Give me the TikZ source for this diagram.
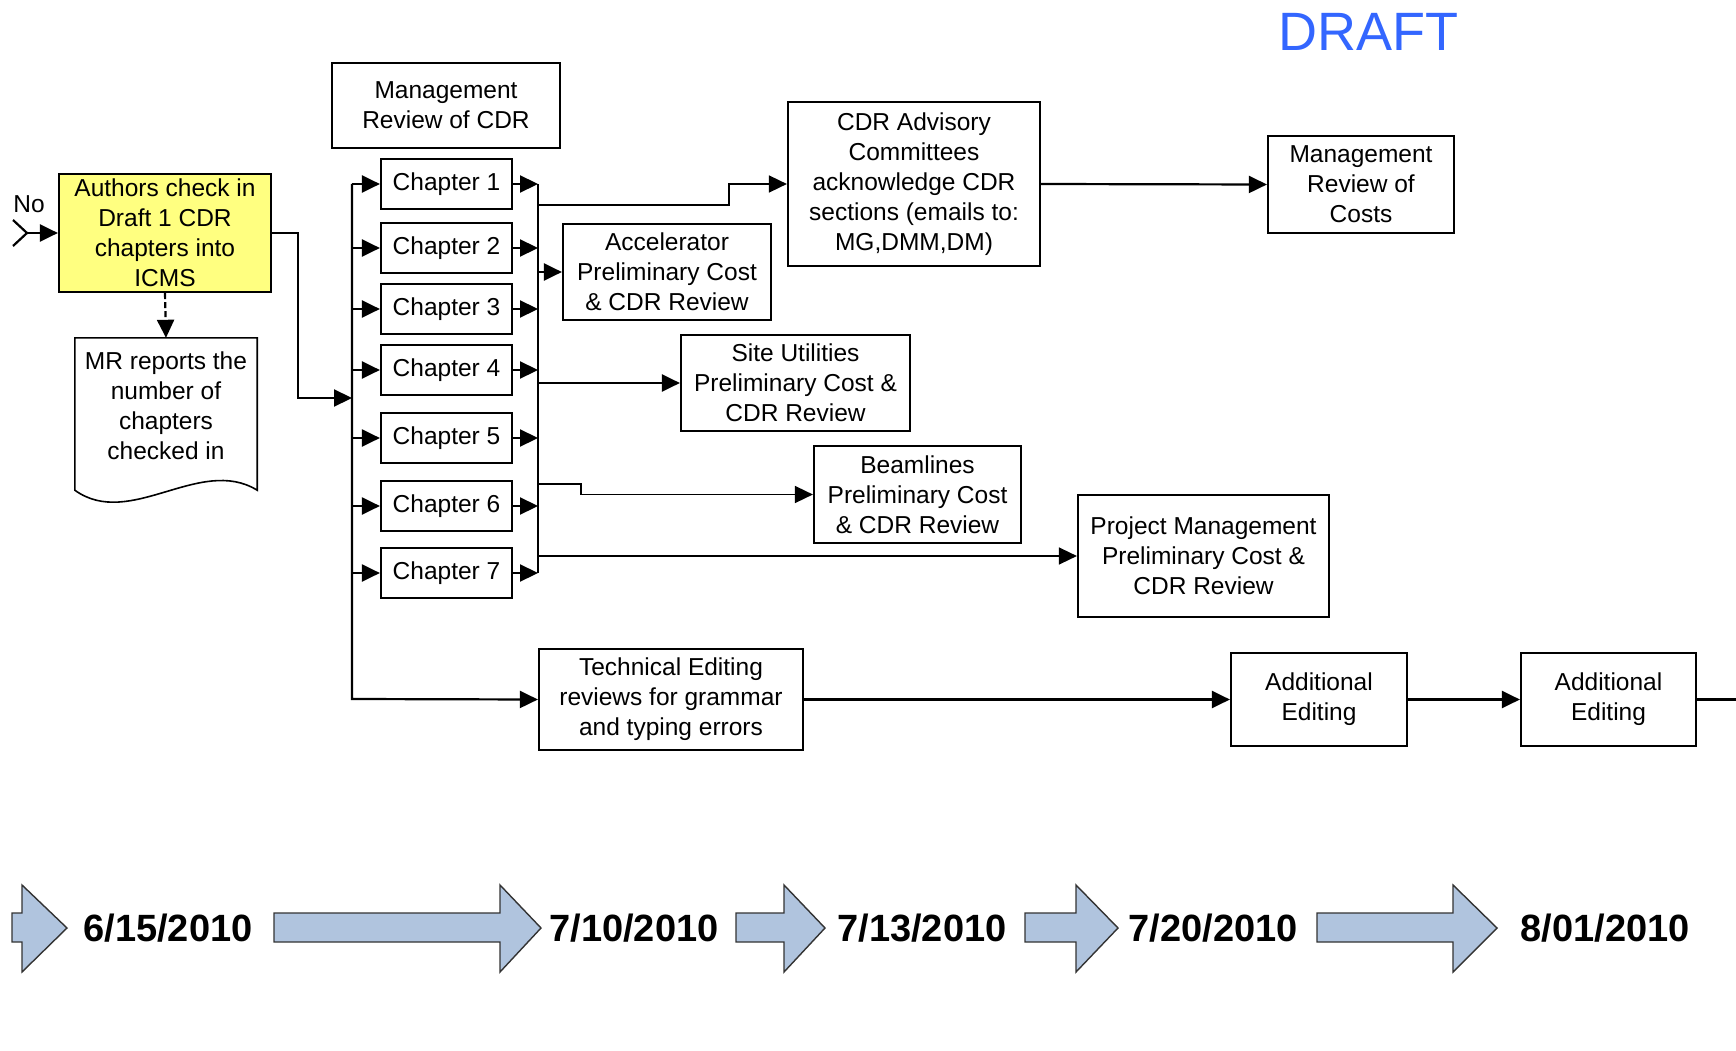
\documentclass[tikz,border=0pt]{standalone}
\usepackage{fontspec}
\setmainfont{Liberation Sans}
\usetikzlibrary{arrows.meta}
\definecolor{draftblue}{RGB}{51,102,255}
\definecolor{boxyellow}{RGB}{255,255,128}
\definecolor{tlblue}{RGB}{176,196,222}
\begin{document}
\begin{tikzpicture}[x=1pt,y=-1pt,
  every node/.style={font=\fontsize{24.5}{30}\selectfont},
  box/.style={draw, line width=2.2pt, align=center, inner sep=0pt},
  chap/.style={box, minimum width=131pt, minimum height=50pt},
  conn/.style={line width=2.2pt},
  arr/.style={conn, -{Triangle[length=18pt,width=17pt]}},
  darr/.style={arr, dash pattern=on 6pt off 3pt},
  tl/.style={fill=tlblue, draw=black!80, line width=1.4pt, line join=miter},
  datefont/.style={font=\fontsize{38}{40}\selectfont\bfseries}
]
\path[use as bounding box] (0,0) rectangle (1736,1051);

% DRAFT
\node[text=draftblue, font=\fontsize{54}{60}\selectfont] (draft) at (1368,32) {DRAFT};

% start
\node[box, fill=boxyellow, minimum width=212pt, minimum height=118pt] (authors) at (165,233)
  {Authors check in\\Draft 1 CDR\\chapters into\\ICMS};
\node (no) at (29,204) {No};
\coordinate (noin) at (27,233);
\draw[conn] (13,220) -- (noin) -- (13,246);
\draw[arr] (noin) -- (authors.west);

% MR document
\node[minimum width=182pt, minimum height=152pt, inner sep=0pt] (mr) at (166,414) {};
\draw[line width=1.6pt] (mr.south east) -- (mr.north east) -- (mr.north west) -- (mr.south west)
  .. controls (130,530) and (200,455) .. (mr.south east) -- cycle;
\node[align=center] (mrtext) at (166,406) {MR reports the\\number of\\chapters\\checked in};
\draw[darr] (authors.south) -- (mr.north);

% management review of CDR
\node[box, minimum width=228pt, minimum height=85pt] (mgmtcdr) at (446,105.5) {Management\\Review of CDR};

% buses
\coordinate (lbin) at (352,398);
\coordinate (lbtop) at (352,184);
\coordinate (lbbot) at (352,699);
\coordinate (rbtop) at (538,184);
\coordinate (rbbot) at (538,573);
\draw[arr] (authors.east) -- (298,233) -- (298,398) -- (lbin);

\foreach \i/\y in {1/184,2/248,3/309,4/370,5/438,6/506,7/573}{
  \node[chap] (ch\i) at (446.5,\y) {Chapter \i};
  \coordinate (lb\i) at (352,\y);
  \coordinate (rb\i) at (538,\y);
  \draw[arr] (lb\i) -- (ch\i.west);
  \draw[arr] (ch\i.east) -- (rb\i);
}
\draw[line width=1.5pt] (rbtop) -- (rbbot);

% review boxes
\node[box, minimum width=252pt, minimum height=164pt] (cdr) at (914,184)
  {CDR Advisory\\Committees\\acknowledge CDR\\sections (emails to:\\MG,DMM,DM)};
\node[box, minimum width=208pt, minimum height=96pt] (acc) at (667,272)
  {Accelerator\\Preliminary Cost\\\& CDR Review};
\node[box, minimum width=229pt, minimum height=96pt] (site) at (795.5,383)
  {Site Utilities\\Preliminary Cost \&\\CDR Review};
\node[box, minimum width=207pt, minimum height=97pt] (beam) at (917.5,494.5)
  {Beamlines\\Preliminary Cost\\\& CDR Review};
\node[box, minimum width=251pt, minimum height=122pt] (pm) at (1203.5,556)
  {Project Management\\Preliminary Cost \&\\CDR Review};
\node[box, minimum width=186pt, minimum height=97pt] (costs) at (1361,184.5)
  {Management\\Review of\\Costs};

\coordinate (rbcdr) at (538,205);
\coordinate (rbacc) at (538,272);
\coordinate (rbsite) at (538,383);
\coordinate (rbbeam) at (538,484);
\coordinate (rbpm) at (538,556);
\draw[arr, line width=1.6pt] (rbcdr) -- (729,205) -- (729,184) -- (cdr.west);
\draw[arr] (rbacc) -- (acc.west);
\draw[arr] (rbsite) -- (site.west);
\draw[arr, line width=1.6pt] (rbbeam) -- (581,484) -- (581,494.5) -- (beam.west);
\draw[arr, line width=1.5pt] (rbpm) -- (pm.west);
\draw[arr] (cdr.east) -- (costs.west);

% editing
\node[box, minimum width=264pt, minimum height=101pt] (tech) at (671,699.5)
  {Technical Editing\\reviews for grammar\\and typing errors};
\node[box, minimum width=176pt, minimum height=93pt] (ae1) at (1319,699.5) {Additional\\Editing};
\node[box, minimum width=175pt, minimum height=93pt] (ae2) at (1608.5,699.5) {Additional\\Editing};
\coordinate (out) at (1736,699.5);
\draw[arr] (lbtop) -- (lbbot) -- (tech.west);
\draw[arr] (tech.east) -- (ae1.west);
\draw[arr] (ae1.east) -- (ae2.west);
\draw[conn] (ae2.east) -- (out);

% timeline
\newcommand{\tlarrow}[3]{%
  \draw[tl] (#1,913) -- (#2,913) -- (#2,885) -- (#3,928) -- (#2,972) -- (#2,942) -- (#1,942) -- cycle;}
\tlarrow{12}{22}{67}
\tlarrow{274}{500}{541}
\tlarrow{736}{784}{825}
\tlarrow{1025}{1076}{1118}
\tlarrow{1317}{1453}{1497}
\node[datefont] (d1) at (168,928) {6/15/2010};
\node[datefont] (d2) at (634,928) {7/10/2010};
\node[datefont] (d3) at (922,928) {7/13/2010};
\node[datefont] (d4) at (1213,928) {7/20/2010};
\node[datefont] (d5) at (1605,928) {8/01/2010};
\end{tikzpicture}
\end{document}
